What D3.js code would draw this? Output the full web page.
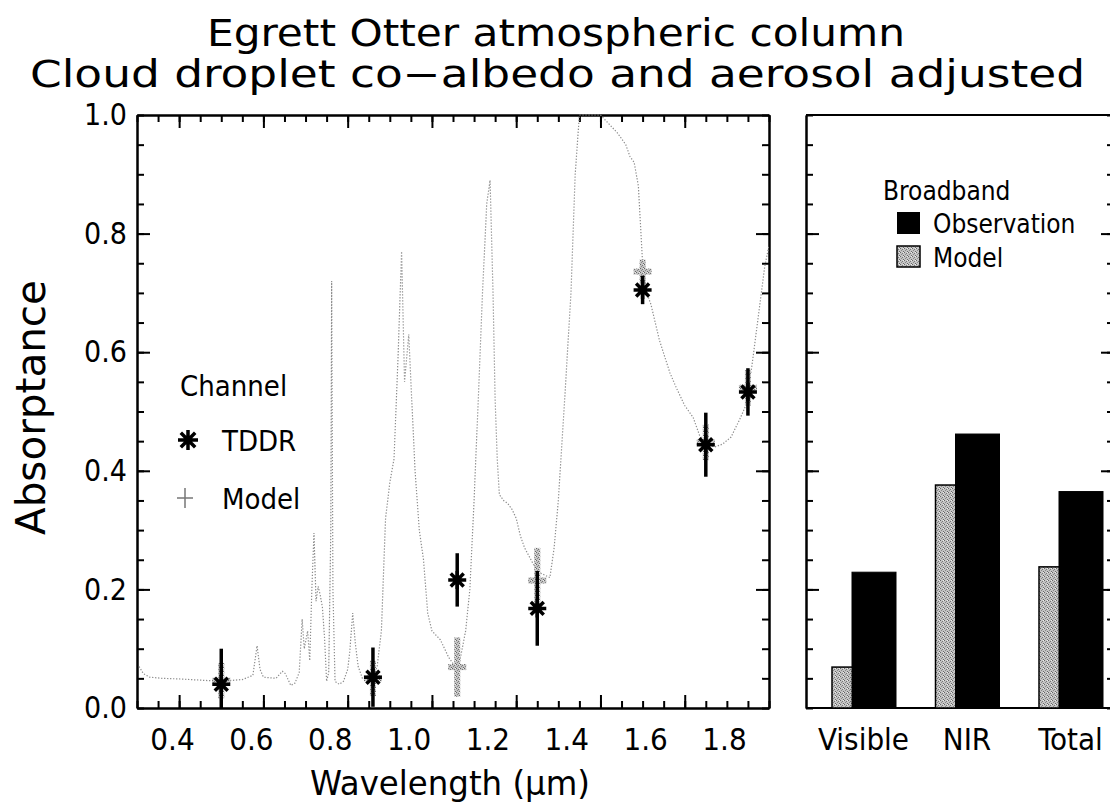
<!DOCTYPE html>
<html>
<head>
<meta charset="utf-8">
<script src="https://cdn.jsdelivr.net/npm/d3@7"></script>
<style>
body { margin: 0; background: #fff; }
text { font-family: "Liberation Sans Narrow", "DejaVu Sans Condensed", "DejaVu Sans", sans-serif; fill: #000; font-weight: 200; }
.axis path, .axis line { stroke: #000; stroke-width: 2; }
</style>
</head>
<body>
<svg id="chart" width="1110" height="806"></svg>
<script>

// model spectrum
var wavelength = [0.305,0.315,0.33,0.36,0.40,0.45,0.50,0.55,0.575,0.585,0.592,0.60,0.63,0.645,0.652,0.665,0.675,0.685,
	0.692,0.697,0.705,0.71,0.715,0.72,0.725,0.73,0.735,0.74,0.745,0.75,0.755,0.760,0.762,0.765,0.770,0.78,0.79,0.80,
	0.805,0.812,0.818,0.825,0.835,0.85,0.86,0.87,0.88,0.89,0.90,0.91,0.92,0.928,0.935,0.945,0.952,0.96,0.97,0.98,0.99,
	1.00,1.02,1.04,1.055,1.065,1.08,1.09,1.10,1.11,1.12,1.13,1.138,1.145,1.15,1.155,1.16,1.17,1.18,1.19,1.20,1.21,1.22,
	1.235,1.25,1.265,1.28,1.29,1.30,1.315,1.33,1.34,1.35,1.40,1.42,1.44,1.46,1.47,1.48,1.49,1.50,1.51,1.52,1.54,1.565,
	1.58,1.60,1.62,1.635,1.65,1.67,1.69,1.71,1.73,1.745,1.76,1.78,1.79,1.80];
var modelAbs = [0.070,0.058,0.052,0.050,0.049,0.047,0.045,0.048,0.055,0.105,0.065,0.052,0.050,0.062,0.058,0.038,0.042,0.060,
	0.150,0.100,0.130,0.080,0.200,0.295,0.180,0.205,0.190,0.170,0.120,0.045,0.060,0.300,0.720,0.200,0.045,0.040,0.045,0.065,
	0.095,0.160,0.110,0.070,0.050,0.048,0.052,0.070,0.130,0.320,0.380,0.420,0.600,0.770,0.550,0.630,0.520,0.400,0.300,0.250,0.160,
	0.130,0.115,0.085,0.070,0.075,0.130,0.200,0.350,0.520,0.700,0.850,0.890,0.700,0.520,0.420,0.360,0.350,0.345,0.335,0.320,0.290,0.270,
	0.250,0.230,0.225,0.220,0.270,0.350,0.520,0.700,0.900,1.000,1.000,0.985,0.970,0.950,0.930,0.920,0.880,0.750,0.700,0.680,0.620,0.565,
	0.540,0.510,0.490,0.460,0.447,0.440,0.445,0.457,0.486,0.510,0.580,0.690,0.745,0.780];

// channel values
var channelWl = [0.5, 0.86, 1.06, 1.25, 1.5, 1.65, 1.75];
var tddr      = [0.040, 0.052, 0.216, 0.168, 0.705, 0.444, 0.533];
var tddrErr   = [0.060, 0.050, 0.045, 0.063, 0.024, 0.054, 0.040];
var modelCh   = [0.046, 0.050, 0.069, 0.215, 0.736, 0.448, 0.540];
var modelErr  = [0.030, 0.030, 0.050, 0.055, 0.020, 0.030, 0.030];

// broadband values
var bands    = ["Visible", "NIR", "Total"];
var obsBand  = [0.229, 0.462, 0.365];
var modBand  = [0.069, 0.376, 0.238];

var xTickLabels = [0.4, 0.6, 0.8, 1.0, 1.2, 1.4, 1.6, 1.8];
var yTickLabels = [0.0, 0.2, 0.4, 0.6, 0.8, 1.0];

var svg = d3.select("#chart");

// panel frame
var L = {x0: 137, x1: 769}, R = {x0: 806, x1: 1114};
var plotTop = 115, plotBottom = 708;

var x = d3.scaleLinear().domain([0.3, 1.8]).range([L.x0, L.x1]);
var y = d3.scaleLinear().domain([0, 1]).range([plotBottom, plotTop]);
// the printed tick labels sit on a slightly narrower span than the ticks
var xLab = d3.scaleLinear().domain([0.4, 1.8]).range([172, 724]);
var xb = d3.scalePoint().domain(bands).range([874, 1081]);

var defs = svg.append("defs");
var pat = defs.append("pattern").attr("id", "stipple")
	.attr("patternUnits", "userSpaceOnUse").attr("width", 4).attr("height", 4);
pat.append("rect").attr("width", 4).attr("height", 4).attr("fill", "#c4c4c4");
pat.append("rect").attr("x", 0).attr("y", 0).attr("width", 1).attr("height", 1).attr("fill", "#666");
pat.append("rect").attr("x", 2).attr("y", 1).attr("width", 1).attr("height", 1).attr("fill", "#777");
pat.append("rect").attr("x", 1).attr("y", 2).attr("width", 1).attr("height", 1).attr("fill", "#888");
pat.append("rect").attr("x", 3).attr("y", 3).attr("width", 1).attr("height", 1).attr("fill", "#6a6a6a");
pat.append("rect").attr("x", 3).attr("y", 0).attr("width", 1).attr("height", 1).attr("fill", "#eee");

defs.append("clipPath").attr("id", "clipL").append("rect")
	.attr("x", L.x0).attr("y", plotTop - 2).attr("width", L.x1 - L.x0).attr("height", plotBottom - plotTop + 2);

// ---- axes, left panel
var minorX = d3.range(0.3, 1.8001, 0.05).map(function(d){ return +d.toFixed(2); });
var majorX = [0.4, 0.6, 0.8, 1.0, 1.2, 1.4, 1.6];
var minorY = d3.range(0, 1.0001, 0.05).map(function(d){ return +d.toFixed(2); });
var majorY = [0.2, 0.4, 0.6, 0.8];

function ticks(g, axis){ g.attr("class", "axis").call(axis).selectAll("text").remove(); }

svg.append("g").attr("transform", "translate(0," + plotBottom + ")")
	.call(ticks, d3.axisBottom(x).tickValues(minorX).tickSize(-7).tickSizeOuter(0));
svg.append("g").attr("transform", "translate(0," + plotBottom + ")")
	.call(ticks, d3.axisBottom(x).tickValues(majorX).tickSize(-13).tickSizeOuter(0));
svg.append("g").attr("transform", "translate(0," + plotTop + ")")
	.call(ticks, d3.axisTop(x).tickValues(minorX).tickSize(-7).tickSizeOuter(0));
svg.append("g").attr("transform", "translate(0," + plotTop + ")")
	.call(ticks, d3.axisTop(x).tickValues(majorX).tickSize(-13).tickSizeOuter(0));

[L, R].forEach(function(p){
	svg.append("g").attr("transform", "translate(" + p.x0 + ",0)")
		.call(ticks, d3.axisLeft(y).tickValues(minorY).tickSize(-7).tickSizeOuter(0));
	svg.append("g").attr("transform", "translate(" + p.x0 + ",0)")
		.call(ticks, d3.axisLeft(y).tickValues(majorY).tickSize(-13).tickSizeOuter(0));
	svg.append("g").attr("transform", "translate(" + p.x1 + ",0)")
		.call(ticks, d3.axisRight(y).tickValues(minorY).tickSize(-7).tickSizeOuter(0));
	svg.append("g").attr("transform", "translate(" + p.x1 + ",0)")
		.call(ticks, d3.axisRight(y).tickValues(majorY).tickSize(-13).tickSizeOuter(0));
});

// right panel top & bottom lines
svg.append("line").attr("x1", R.x0).attr("x2", R.x1).attr("y1", plotTop).attr("y2", plotTop)
	.attr("stroke", "#000").attr("stroke-width", 2);
svg.append("line").attr("x1", R.x0).attr("x2", R.x1).attr("y1", plotBottom).attr("y2", plotBottom)
	.attr("stroke", "#000").attr("stroke-width", 2);

// tick labels
var yLab = svg.append("g").attr("transform", "translate(" + L.x0 + ",0)")
	.call(d3.axisLeft(y).tickValues(yTickLabels).tickSize(0).tickPadding(10).tickFormat(d3.format(".1f")));
yLab.select(".domain").remove();
yLab.selectAll("text").style("font-size", "30px");

var xLabG = svg.append("g").attr("transform", "translate(0," + (plotBottom + 20) + ")")
	.call(d3.axisBottom(xLab).tickValues(xTickLabels).tickSize(0).tickPadding(0).tickFormat(d3.format(".1f")));
xLabG.select(".domain").remove();
xLabG.selectAll("text").style("font-size", "31px");

var bLab = svg.append("g").attr("transform", "translate(-11," + (plotBottom + 20) + ")")
	.call(d3.axisBottom(xb).tickSize(0).tickPadding(0));
bLab.select(".domain").remove();
bLab.selectAll("text").style("font-size", "31px");

// ---- spectrum
var line = d3.line()
	.x(function(d, i){ return x(wavelength[i]); })
	.y(function(d){ return y(d); });

svg.append("path").datum(modelAbs)
	.attr("clip-path", "url(#clipL)")
	.attr("fill", "none").attr("stroke", "#8c8c8c").attr("stroke-width", 1.2)
	.attr("stroke-dasharray", "1.3,1.7")
	.attr("d", line);

// ---- channel markers
function starPath(r){
	var d = r * 0.72;
	return "M" + (-r) + ",0L" + r + ",0M0," + (-r) + "L0," + r +
		"M" + (-d) + "," + (-d) + "L" + d + "," + d + "M" + (-d) + "," + d + "L" + d + "," + (-d);
}

var ch = svg.append("g").attr("clip-path", "url(#clipL)");

// model (gray crosses)
ch.selectAll("line.merr").data(channelWl).enter().append("line")
	.attr("x1", function(d){ return x(d); }).attr("x2", function(d){ return x(d); })
	.attr("y1", function(d, i){ return y(modelCh[i] - modelErr[i]); })
	.attr("y2", function(d, i){ return y(modelCh[i] + modelErr[i]); })
	.attr("stroke", "url(#stipple)").attr("stroke-width", 6);
ch.selectAll("line.mbar").data(channelWl).enter().append("line")
	.attr("x1", function(d){ return x(d) - 9; }).attr("x2", function(d){ return x(d) + 9; })
	.attr("y1", function(d, i){ return y(modelCh[i]); })
	.attr("y2", function(d, i){ return y(modelCh[i]); })
	.attr("stroke", "url(#stipple)").attr("stroke-width", 6);

// TDDR (black asterisks)
ch.selectAll("line.terr").data(channelWl).enter().append("line")
	.attr("x1", function(d){ return x(d); }).attr("x2", function(d){ return x(d); })
	.attr("y1", function(d, i){ return y(tddr[i] - tddrErr[i]); })
	.attr("y2", function(d, i){ return y(tddr[i] + tddrErr[i]); })
	.attr("stroke", "#000").attr("stroke-width", 3.5);
ch.selectAll("path.star").data(channelWl).enter().append("path")
	.attr("transform", function(d, i){ return "translate(" + x(d) + "," + y(tddr[i]) + ")"; })
	.attr("d", starPath(9))
	.attr("stroke", "#000").attr("stroke-width", 3.5).attr("fill", "none");

// ---- broadband bars
svg.selectAll("rect.mod").data(bands).enter().append("rect")
	.attr("x", function(d){ return xb(d) - 42; })
	.attr("width", 44)
	.attr("y", function(d, i){ return y(modBand[i]); })
	.attr("height", function(d, i){ return plotBottom - y(modBand[i]); })
	.attr("fill", "url(#stipple)").attr("stroke", "#000").attr("stroke-width", 1.5);
svg.selectAll("rect.obs").data(bands).enter().append("rect")
	.attr("x", function(d){ return xb(d) - 22; })
	.attr("width", 44)
	.attr("y", function(d, i){ return y(obsBand[i]); })
	.attr("height", function(d, i){ return plotBottom - y(obsBand[i]); })
	.attr("fill", "#000").attr("stroke", "#000").attr("stroke-width", 1);

// ---- legends
svg.append("text").attr("x", 180).attr("y", 396).style("font-size", "29px").text("Channel");
svg.append("path").attr("transform", "translate(188,440)").attr("d", starPath(10))
	.attr("stroke", "#000").attr("stroke-width", 3.5).attr("fill", "none");
svg.append("text").attr("x", 222).attr("y", 451).style("font-size", "29px").text("TDDR");
svg.append("path").attr("transform", "translate(185,498)")
	.attr("d", "M-8,0L8,0M0,-10L0,10")
	.attr("stroke", "#777").attr("stroke-width", 1.5).attr("fill", "none");
svg.append("text").attr("x", 222).attr("y", 509).style("font-size", "29px").text("Model");

svg.append("text").attr("x", 883).attr("y", 200).style("font-size", "26px").text("Broadband");
svg.append("rect").attr("x", 897).attr("y", 212).attr("width", 23).attr("height", 22).attr("fill", "#000");
svg.append("text").attr("x", 933).attr("y", 233).style("font-size", "26px").text("Observation");
svg.append("rect").attr("x", 897).attr("y", 246).attr("width", 23).attr("height", 21)
	.attr("fill", "url(#stipple)").attr("stroke", "#000").attr("stroke-width", 1.5);
svg.append("text").attr("x", 933).attr("y", 267).style("font-size", "26px").text("Model");

// ---- titles
svg.append("text").attr("x", 207).attr("y", 46).style("font-size", "37px")
	.attr("textLength", 698).attr("lengthAdjust", "spacingAndGlyphs")
	.text("Egrett Otter atmospheric column");
svg.append("text").attr("x", 30).attr("y", 87).style("font-size", "37px")
	.attr("textLength", 1055).attr("lengthAdjust", "spacingAndGlyphs")
	.text("Cloud droplet co\u2212albedo and aerosol adjusted");
svg.append("text").attr("transform", "translate(45,535) rotate(-90)").style("font-size", "40px")
	.attr("textLength", 255).attr("lengthAdjust", "spacingAndGlyphs")
	.text("Absorptance");
svg.append("text").attr("x", 310).attr("y", 795).style("font-size", "33px")
	.attr("textLength", 280).attr("lengthAdjust", "spacingAndGlyphs")
	.text("Wavelength (\u03bcm)");

</script>
</body>
</html>
